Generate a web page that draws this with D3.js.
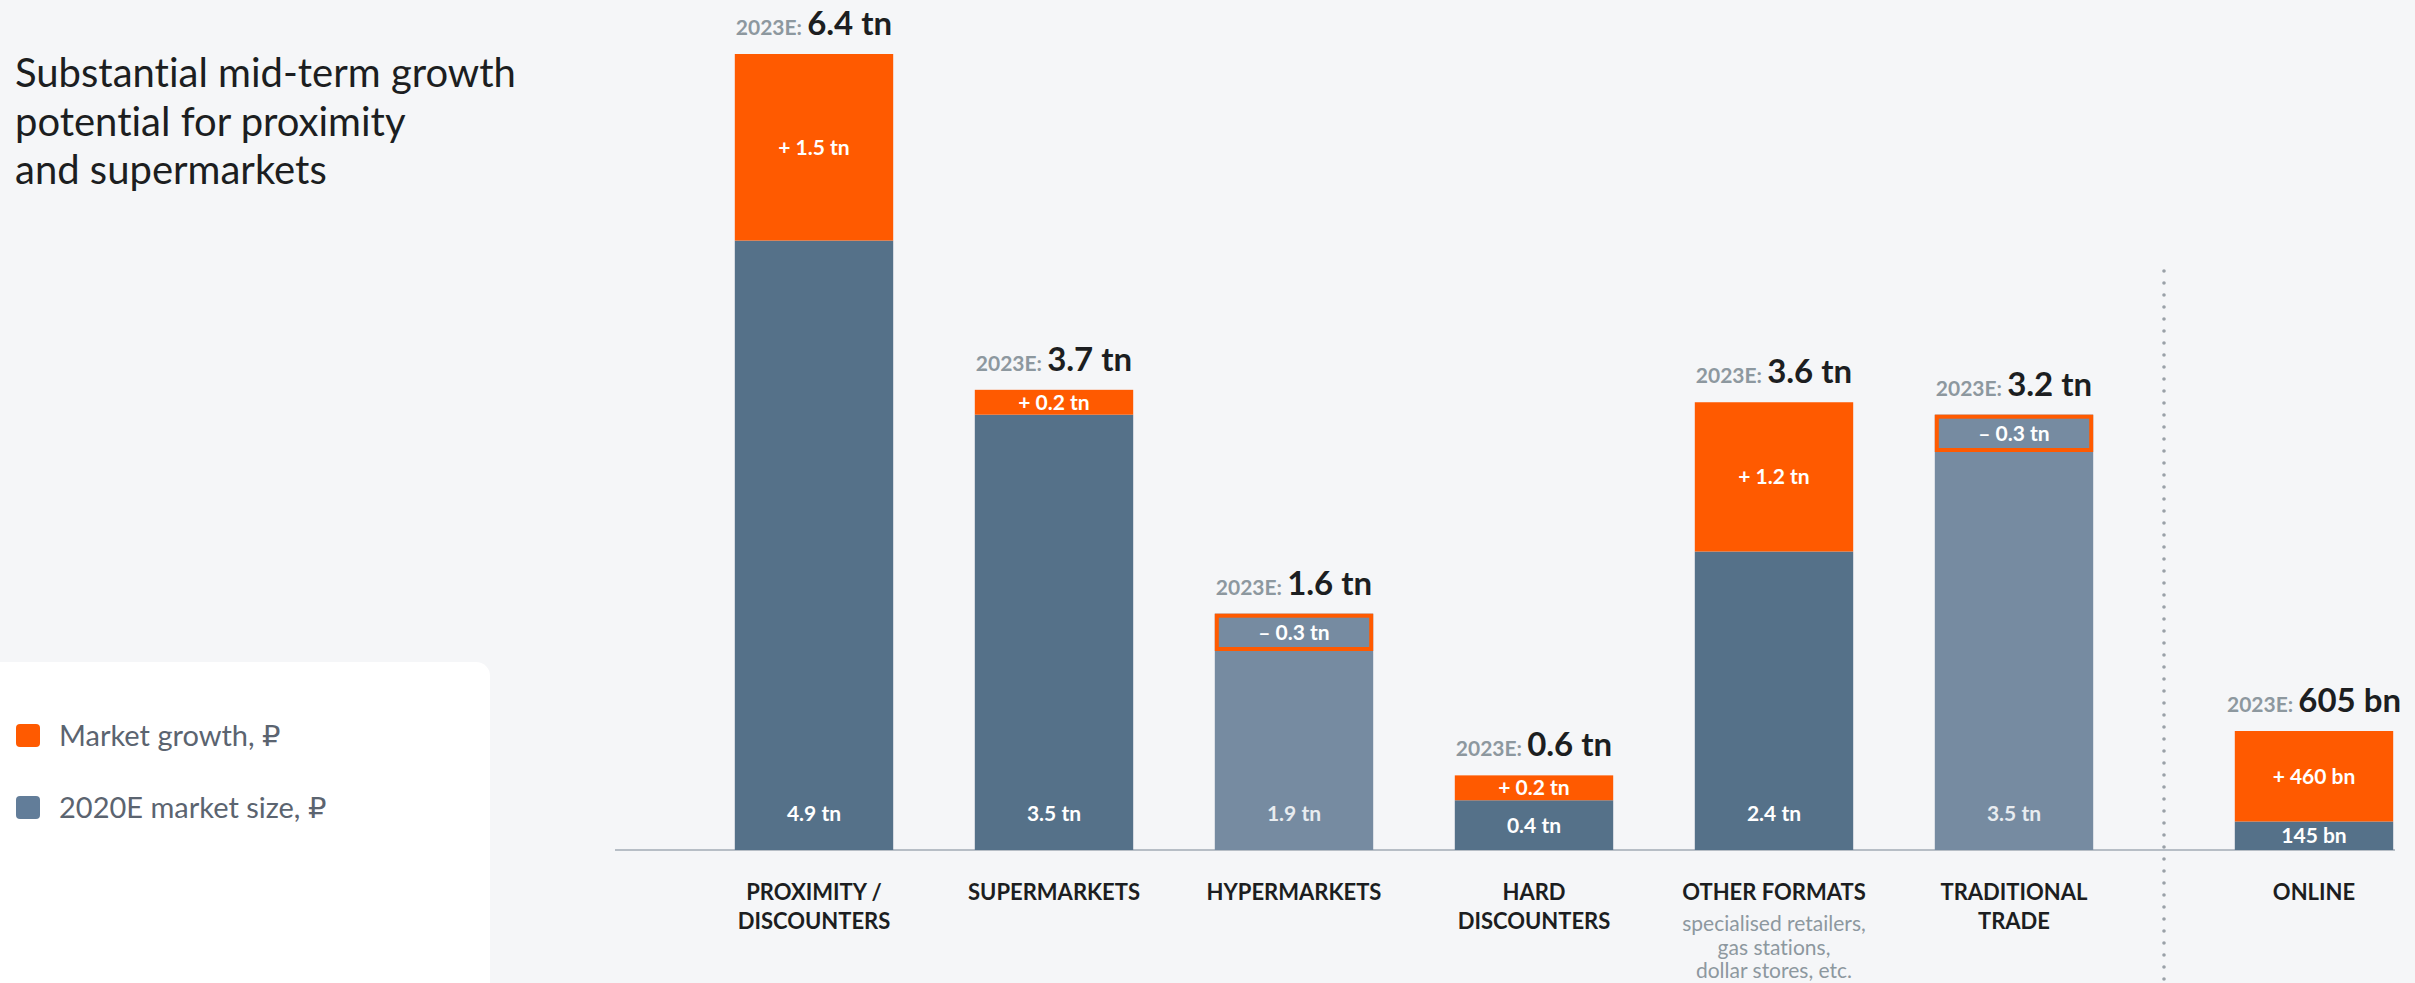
<!DOCTYPE html>
<html>
<head>
<meta charset="utf-8">
<script src="https://cdn.jsdelivr.net/npm/d3@7"></script>
<style>
  html, body { margin: 0; padding: 0; background: #F5F6F8; }
  svg { display: block; }
  text { font-variant-ligatures: none; font-feature-settings: "liga" 0; }
</style>
</head>
<body>
<svg id="chart" width="2415" height="983"></svg>
<script>
// ---------- DATA ----------
const categories = ["PROXIMITY / DISCOUNTERS", "SUPERMARKETS", "HYPERMARKETS", "HARD DISCOUNTERS", "OTHER FORMATS", "TRADITIONAL TRADE"];
const categoryLines = [["PROXIMITY /", "DISCOUNTERS"], ["SUPERMARKETS"], ["HYPERMARKETS"], ["HARD", "DISCOUNTERS"], ["OTHER FORMATS"], ["TRADITIONAL", "TRADE"]];
const categoryNotes = [[], [], [], [], ["specialised retailers,", "gas stations,", "dollar stores, etc."], []];
const size2020 = [4.9, 3.5, 1.9, 0.4, 2.4, 3.5];      // tn RUB
const growth = [1.5, 0.2, -0.3, 0.2, 1.2, -0.3];      // tn RUB
const size2023 = [6.4, 3.7, 1.6, 0.6, 3.6, 3.2];      // tn RUB

const onlineCategory = "ONLINE";
const onlineSize2020 = 145;   // bn RUB
const onlineGrowth = 460;     // bn RUB
const onlineSize2023 = 605;   // bn RUB

const titleLines = ["Substantial mid-term growth", "potential for proximity", "and supermarkets"];
const legendItems = ["Market growth, ₽", "2020E market size, ₽"];

// ---------- STYLE ----------
const C = {
  orange: "#FF5A00",
  dark: "#557189",
  light: "#768BA1",
  legendBlue: "#627D99",
  axis: "#B7BEC6",
  text: "#1C1E21",
  grey: "#8D989F",
  legendText: "#5B6470"
};
const FONT = "Lato, 'DejaVu Sans', sans-serif";
const baseY = 850;

const svg = d3.select("#chart");
svg.append("rect").attr("width", 2415).attr("height", 983).attr("fill", "#F5F6F8");

// ---------- SCALES ----------
const x = d3.scaleBand().domain(categories).range([694, 2134]).paddingInner(0.34).paddingOuter(0.17);
const xOn = d3.scaleBand().domain([onlineCategory]).range([2194, 2434]).paddingInner(0.34).paddingOuter(0.17);
const y = d3.scaleLinear().domain([0, 6.4]).range([baseY, 54]);
const yOn = d3.scaleLinear().domain([0, 605]).range([baseY, 731]);

const fmtTn = v => d3.format(".1f")(Math.abs(v)) + " tn";
const fmtSigned = v => (v >= 0 ? "+ " : "– ") + fmtTn(v);

// ---------- TITLE ----------
svg.append("g").selectAll("text").data(titleLines).join("text")
  .attr("x", 15).attr("y", (d, i) => 87 + i * 48.5)
  .attr("font-family", FONT).attr("font-size", 40).attr("font-weight", 400)
  .attr("fill", C.text).text(d => d);

// ---------- LEGEND CARD ----------
svg.append("rect").attr("x", -20).attr("y", 662).attr("width", 510).attr("height", 400)
  .attr("rx", 14).attr("fill", "#FFFFFF");
const lg = svg.append("g");
[C.orange, C.legendBlue].forEach((col, i) => {
  lg.append("rect").attr("x", 16).attr("y", 724 + i * 72).attr("width", 24).attr("height", 23)
    .attr("rx", 4).attr("fill", col);
  lg.append("text").attr("x", 59).attr("y", 746 + i * 72)
    .attr("font-family", FONT).attr("font-size", 29).attr("fill", C.legendText)
    .text(legendItems[i]);
});

// ---------- AXIS LINE ----------
svg.append("line").attr("x1", 615).attr("x2", 2395).attr("y1", baseY).attr("y2", baseY)
  .attr("stroke", C.axis).attr("stroke-width", 2);

// ---------- DOTTED SEPARATOR ----------
svg.append("line").attr("x1", 2164).attr("x2", 2164).attr("y1", 271).attr("y2", 990)
  .attr("stroke", "#9AA1A8").attr("stroke-width", 3.6)
  .attr("stroke-linecap", "round").attr("stroke-dasharray", "0 12");

// ---------- MAIN BARS ----------
const bw = x.bandwidth();
const gBars = svg.append("g");
categories.forEach((cat, i) => {
  const x0 = x(cat);
  const cx = x0 + bw / 2;
  const b = size2020[i], g = growth[i], t = size2023[i];
  const decline = g < 0;
  const baseCol = decline ? C.light : C.dark;

  // 2020E base
  gBars.append("rect").attr("x", x0).attr("y", y(b)).attr("width", bw).attr("height", baseY - y(b))
    .attr("fill", baseCol);

  if (!decline) {
    gBars.append("rect").attr("x", x0).attr("y", y(t)).attr("width", bw).attr("height", y(b) - y(t))
      .attr("fill", C.orange);
  } else {
    gBars.append("rect").attr("x", x0 + 2).attr("y", y(b) + 2).attr("width", bw - 4).attr("height", y(t) - y(b) - 4)
      .attr("fill", baseCol).attr("stroke", C.orange).attr("stroke-width", 4);
  }

  // growth label
  const gMid = (y(b) + y(t)) / 2;
  gBars.append("text").attr("x", cx).attr("y", gMid).attr("dy", "0.36em")
    .attr("text-anchor", "middle").attr("font-family", FONT).attr("font-weight", 700)
    .attr("font-size", 21).attr("fill", "#FFFFFF").text(fmtSigned(g));

  // base label
  const baseTop = decline ? y(t) : y(b);
  const bMid = Math.max((baseTop + baseY) / 2, baseY - 37);
  gBars.append("text").attr("x", cx).attr("y", bMid).attr("dy", "0.36em")
    .attr("text-anchor", "middle").attr("font-family", FONT).attr("font-weight", 700)
    .attr("font-size", 21).attr("fill", decline ? "#E8ECF0" : "#FFFFFF").text(fmtTn(b));

  // top label
  const topY = y(Math.max(b, t)) - 19;
  const tl = gBars.append("text").attr("x", cx).attr("y", topY).attr("text-anchor", "middle")
    .attr("font-family", FONT).attr("font-weight", 700);
  tl.append("tspan").attr("font-size", 21).attr("fill", C.grey).text("2023E: ");
  tl.append("tspan").attr("font-size", 33).attr("fill", C.text).text(fmtTn(t));

  // category label
  gBars.append("g").selectAll("text").data(categoryLines[i]).join("text")
    .attr("x", cx).attr("y", (d, k) => 900 + k * 29).attr("text-anchor", "middle")
    .attr("font-family", FONT).attr("font-weight", 700).attr("font-size", 22)
    .attr("fill", C.text).text(d => d);
  gBars.append("g").selectAll("text").data(categoryNotes[i]).join("text")
    .attr("x", cx).attr("y", (d, k) => 931 + k * 23.5).attr("text-anchor", "middle")
    .attr("font-family", FONT).attr("font-size", 21)
    .attr("fill", C.grey).text(d => d);
});

// ---------- ONLINE BAR ----------
const ox = xOn(onlineCategory), obw = xOn.bandwidth(), ocx = ox + obw / 2;
gBars.append("rect").attr("x", ox).attr("y", yOn(onlineSize2020)).attr("width", obw)
  .attr("height", baseY - yOn(onlineSize2020)).attr("fill", C.dark);
gBars.append("rect").attr("x", ox).attr("y", yOn(onlineSize2023)).attr("width", obw)
  .attr("height", yOn(onlineSize2020) - yOn(onlineSize2023)).attr("fill", C.orange);
gBars.append("text").attr("x", ocx).attr("y", (yOn(onlineSize2020) + yOn(onlineSize2023)) / 2).attr("dy", "0.36em")
  .attr("text-anchor", "middle").attr("font-family", FONT).attr("font-weight", 700)
  .attr("font-size", 21).attr("fill", "#FFFFFF").text("+ " + onlineGrowth + " bn");
gBars.append("text").attr("x", ocx).attr("y", (yOn(onlineSize2020) + baseY) / 2).attr("dy", "0.36em")
  .attr("text-anchor", "middle").attr("font-family", FONT).attr("font-weight", 700)
  .attr("font-size", 21).attr("fill", "#FFFFFF").text(onlineSize2020 + " bn");
const otl = gBars.append("text").attr("x", ocx).attr("y", yOn(onlineSize2023) - 19).attr("text-anchor", "middle")
  .attr("font-family", FONT).attr("font-weight", 700);
otl.append("tspan").attr("font-size", 21).attr("fill", C.grey).text("2023E: ");
otl.append("tspan").attr("font-size", 33).attr("fill", C.text).text(onlineSize2023 + " bn");
gBars.append("text").attr("x", ocx).attr("y", 900).attr("text-anchor", "middle")
  .attr("font-family", FONT).attr("font-weight", 700).attr("font-size", 22)
  .attr("fill", C.text).text(onlineCategory);
</script>
</body>
</html>
